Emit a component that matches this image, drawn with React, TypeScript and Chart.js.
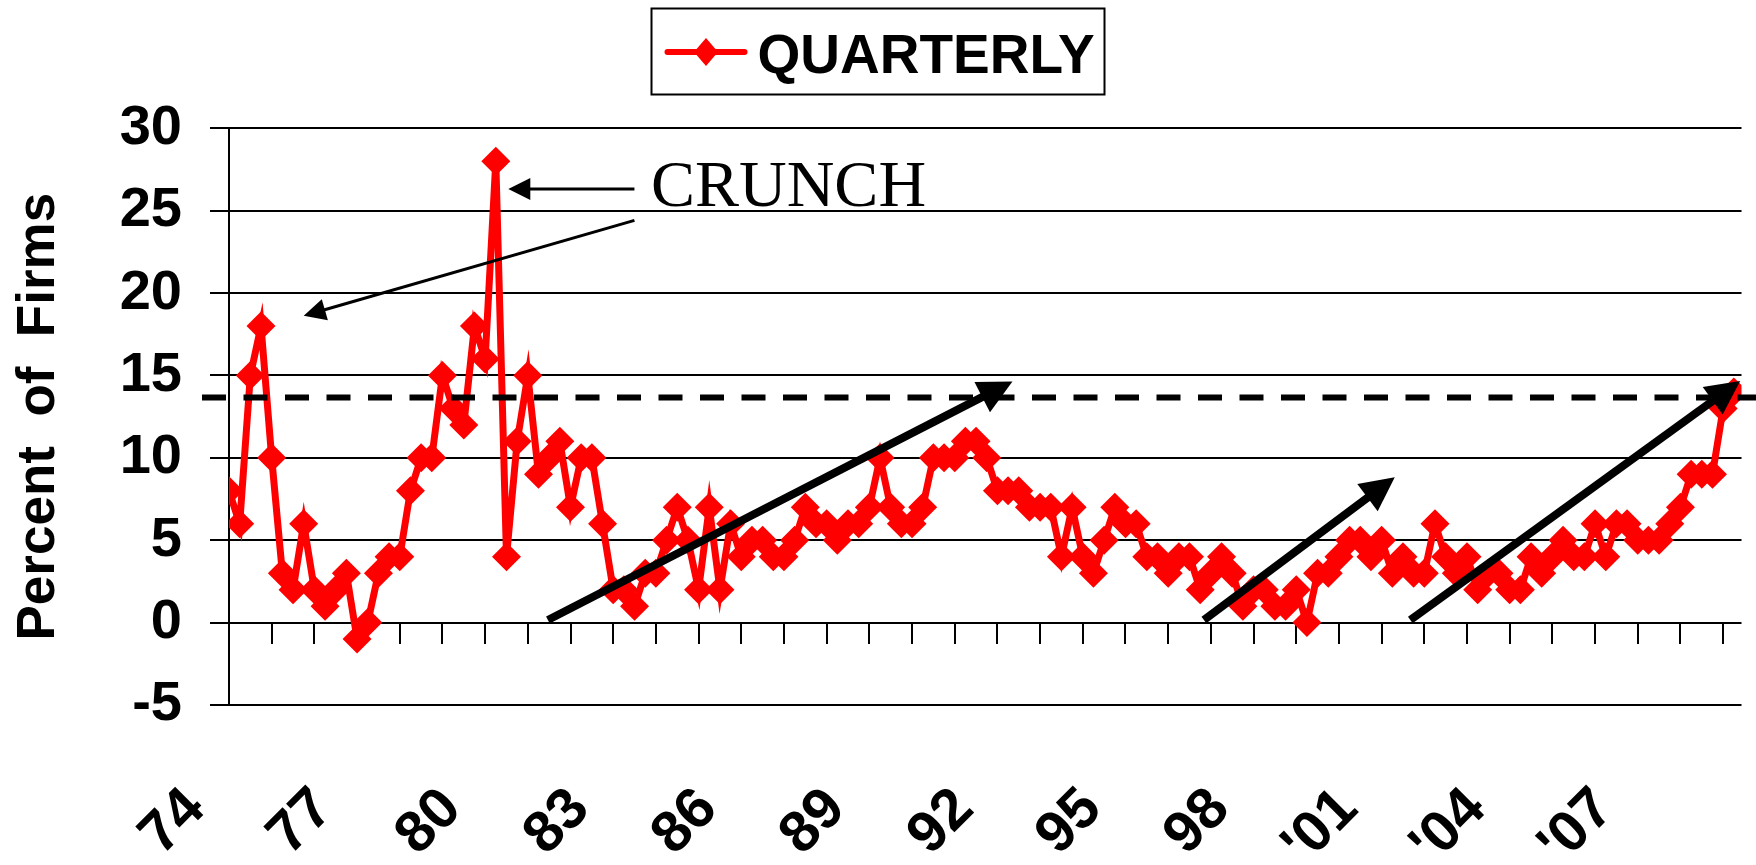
import React, { useEffect, useRef } from 'react';
import { Chart, registerables } from 'chart.js';

Chart.register(...registerables);

// ---------------- data ----------------
// Percent of firms, quarterly, starting 1974 Q1 (index 0)
const QUARTERLY: number[] = [
  8, 6, 15, 18, 10, 3, 2, 6, 2, 1,
  2, 3, -1, 0, 3, 4, 4, 8, 10, 10,
  15, 13, 12, 18, 16, 28, 4, 11, 15, 9,
  10, 11, 7, 10, 10, 6, 2, 2, 1, 3,
  3, 5, 7, 5, 2, 7, 2, 6, 4, 5,
  5, 4, 4, 5, 7, 6, 6, 5, 6, 6,
  7, 10, 7, 6, 6, 7, 10, 10, 10, 11,
  11, 10, 8, 8, 8, 7, 7, 7, 4, 7,
  4, 3, 5, 7, 6, 6, 4, 4, 3, 4,
  4, 2, 3, 4, 3, 1, 2, 2, 1, 1,
  2, 0, 3, 3, 4, 5, 5, 4, 5, 3,
  4, 3, 3, 6, 4, 3, 4, 2, 3, 3,
  2, 2, 4, 3, 4, 5, 4, 4, 6, 4,
  6, 6, 5, 5, 5, 6, 7, 9, 9, 9,
  13, 14,
];

const SERIES_LABEL = 'QUARTERLY';
const YEAR_LABELS: string[] = ['74', '77', '80', '83', '86', '89', '92', '95', '98', "'01", "'04", "'07"];
const QUARTERS_PER_TICK = 4;
const QUARTERS_PER_LABEL = 12;
const X_VISIBLE_MAX = 141.72; // visible extent of the category axis (in quarters)
const Y_MIN = -5;
const Y_MAX = 30;
const Y_STEP = 5;
const Y_TITLE = 'Percent  of  Firms';

// dashed reference level
const REFERENCE_LEVEL = 13.66;

// annotation arrows, in data units [quarter index, percent]
const CRUNCH_TEXT = 'CRUNCH';
const CRUNCH_TEXT_AT: [number, number] = [39.54, 25.26];
const CRUNCH_ARROWS: Array<[[number, number], [number, number]]> = [
  [[37.99, 26.31], [26.17, 26.31]],
  [[37.99, 24.41], [7.0, 18.62]],
];
const TREND_ARROWS: Array<[[number, number], [number, number]]> = [
  [[29.88, 0.16], [73.41, 14.63]],
  [[91.35, 0.16], [109.23, 8.82]],
  [[110.69, 0.16], [141.6, 14.67]],
];

const SANS = '"Liberation Sans", Arial, Helvetica, sans-serif';
const SERIF = '"Liberation Serif", "Times New Roman", Times, serif';
const RED = '#ff0000';

function drawArrow(
  ctx: CanvasRenderingContext2D,
  x1: number, y1: number, x2: number, y2: number,
  lw: number, headLen: number, headHalf: number,
) {
  const ang = Math.atan2(y2 - y1, x2 - x1);
  const c = Math.cos(ang);
  const s = Math.sin(ang);
  const bx = x2 - headLen * c;
  const by = y2 - headLen * s;
  ctx.lineWidth = lw;
  ctx.lineCap = 'butt';
  ctx.beginPath();
  ctx.moveTo(x1, y1);
  ctx.lineTo(bx + 2 * c, by + 2 * s);
  ctx.stroke();
  ctx.beginPath();
  ctx.moveTo(x2, y2);
  ctx.lineTo(bx + headHalf * s, by - headHalf * c);
  ctx.lineTo(bx - headHalf * s, by + headHalf * c);
  ctx.closePath();
  ctx.fill();
}

const annotationPlugin = {
  id: 'slideAnnotations',
  afterDatasetsDraw(chart: any) {
    const { ctx, chartArea } = chart;
    const x = chart.scales.x;
    const y = chart.scales.y;
    ctx.save();
    // dashed reference line
    const ry = y.getPixelForValue(REFERENCE_LEVEL);
    ctx.strokeStyle = '#000';
    ctx.lineWidth = 6;
    ctx.setLineDash([24, 17.5]);
    ctx.beginPath();
    ctx.moveTo(chartArea.left - 27, ry);
    ctx.lineTo(chart.width, ry);
    ctx.stroke();
    ctx.setLineDash([]);

    ctx.fillStyle = '#000';
    ctx.strokeStyle = '#000';
    for (const [from, to] of TREND_ARROWS) {
      drawArrow(ctx,
        x.getPixelForValue(from[0]), y.getPixelForValue(from[1]),
        x.getPixelForValue(to[0]), y.getPixelForValue(to[1]),
        8, 34, 17);
    }
    for (const [from, to] of CRUNCH_ARROWS) {
      drawArrow(ctx,
        x.getPixelForValue(from[0]), y.getPixelForValue(from[1]),
        x.getPixelForValue(to[0]), y.getPixelForValue(to[1]),
        3, 22, 11);
    }
    ctx.font = `66px ${SERIF}`;
    ctx.textAlign = 'left';
    ctx.textBaseline = 'alphabetic';
    ctx.fillText(CRUNCH_TEXT, x.getPixelForValue(CRUNCH_TEXT_AT[0]), y.getPixelForValue(CRUNCH_TEXT_AT[1]));
    ctx.restore();
  },
  afterDraw(chart: any) {
    const { ctx } = chart;
    const label = chart.data.datasets[0].label as string;
    ctx.save();
    const boxW = 453;
    const boxH = 86;
    const bx = chart.width / 2 - boxW / 2;
    const by = 8.5;
    const midY = by + 43.5;
    ctx.lineWidth = 2;
    ctx.strokeStyle = '#000';
    ctx.strokeRect(bx, by, boxW, boxH);
    // sample line + diamond
    ctx.strokeStyle = RED;
    ctx.lineWidth = 6;
    ctx.lineCap = 'round';
    ctx.beginPath();
    ctx.moveTo(bx + 16, midY);
    ctx.lineTo(bx + 93, midY);
    ctx.stroke();
    ctx.fillStyle = RED;
    const dx = bx + 54.5;
    ctx.beginPath();
    ctx.moveTo(dx, midY - 14);
    ctx.lineTo(dx + 12, midY);
    ctx.lineTo(dx, midY + 14);
    ctx.lineTo(dx - 12, midY);
    ctx.closePath();
    ctx.fill();
    ctx.fillStyle = '#000';
    ctx.font = `bold 55px ${SANS}`;
    ctx.textAlign = 'left';
    ctx.textBaseline = 'alphabetic';
    ctx.fillText(label, bx + 106, by + 64.2);
    ctx.restore();
  },
};

function zeroPadding(scale: any) {
  scale.paddingLeft = 0;
  scale.paddingRight = 0;
  scale.paddingTop = 0;
  scale.paddingBottom = 0;
}

export default function App() {
  const canvasRef = useRef<HTMLCanvasElement | null>(null);

  useEffect(() => {
    document.body.style.margin = '0';
    document.body.style.overflow = 'hidden';
    const canvas = canvasRef.current;
    if (!canvas) return;

    const chart = new Chart(canvas, {
      type: 'line',
      data: {
        datasets: [
          {
            label: SERIES_LABEL,
            data: QUARTERLY.map((v, i) => ({ x: i, y: v })),
            borderColor: RED,
            backgroundColor: RED,
            borderWidth: 7,
            pointStyle: 'rectRot',
            pointRadius: 14.5,
            pointHoverRadius: 14.5,
            pointBackgroundColor: RED,
            pointBorderColor: RED,
            pointBorderWidth: 0,
            tension: 0,
            fill: false,
          } as any,
        ],
      },
      options: {
        responsive: false,
        animation: false,
        devicePixelRatio: 1,
        events: [],
        layout: { padding: { top: 128.3, left: 0, right: 0, bottom: 0 } },
        plugins: {
          legend: { display: false },
          tooltip: { enabled: false },
          title: { display: false },
        },
        scales: {
          x: {
            type: 'linear',
            axis: 'x',
            position: { y: 0 } as any,
            min: 0,
            max: X_VISIBLE_MAX,
            ticks: { display: false, stepSize: QUARTERS_PER_TICK, includeBounds: false, maxTicksLimit: 200 },
            grid: { drawOnChartArea: false, drawTicks: true, tickLength: 21, color: '#000', lineWidth: 2 },
            border: { display: false },
            afterFit: zeroPadding,
          },
          xLabels: {
            type: 'linear',
            axis: 'x',
            position: 'bottom',
            min: 0,
            max: X_VISIBLE_MAX,
            ticks: {
              stepSize: QUARTERS_PER_LABEL,
              includeBounds: false,
              maxTicksLimit: 200,
              autoSkip: false,
              minRotation: 45,
              maxRotation: 45,
              labelOffset: -33,
              padding: 70,
              color: '#000',
              font: { family: SANS, size: 58, weight: 'bold' },
              callback: (value: any) => YEAR_LABELS[Math.round(Number(value) / QUARTERS_PER_LABEL)] ?? '',
            },
            grid: { display: false, drawTicks: false },
            border: { display: false },
            afterFit: (scale: any) => {
              scale.height = 160;
              zeroPadding(scale);
            },
          },
          y: {
            type: 'linear',
            position: 'left',
            min: Y_MIN,
            max: Y_MAX,
            ticks: {
              stepSize: Y_STEP,
              padding: 28,
              color: '#000',
              font: { family: SANS, size: 56, weight: 'bold' },
            },
            grid: { color: '#000', lineWidth: 2, tickLength: 19, drawTicks: true },
            border: { display: true, color: '#000', width: 2 },
            title: {
              display: true,
              text: Y_TITLE,
              color: '#000',
              font: { family: SANS, size: 53, weight: 'bold' },
              padding: { top: 8, bottom: 0 },
            },
            afterFit: (scale: any) => {
              scale.width = 229;
            },
          },
        } as any,
      },
      plugins: [annotationPlugin],
    } as any);

    return () => chart.destroy();
  }, []);

  return (
    <div style={{ width: 1756, height: 865, overflow: 'hidden', background: '#fff' }}>
      <canvas ref={canvasRef} width={1756} height={865} style={{ display: 'block', width: 1756, height: 865 }} />
    </div>
  );
}
